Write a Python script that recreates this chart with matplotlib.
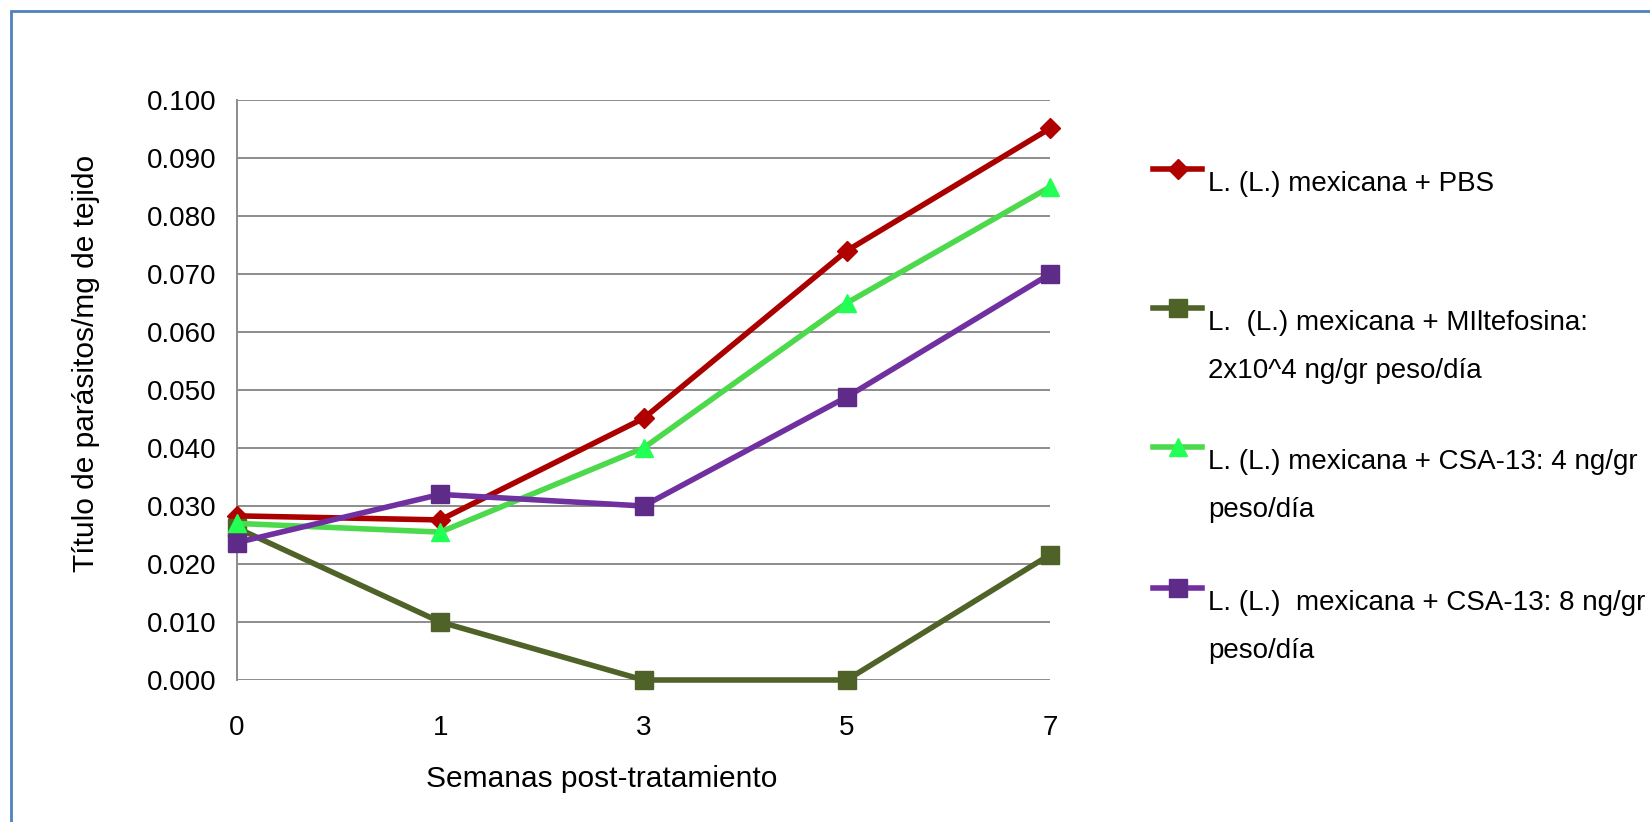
import matplotlib.pyplot as plt
from matplotlib.lines import Line2D
from matplotlib.patches import Rectangle

plt.rcParams['font.family'] = ['Liberation Sans', 'DejaVu Sans']

weeks = ['0', '1', '3', '5', '7']
pbs = [0.0283, 0.0276, 0.0451, 0.0740, 0.0951]
miltefosina = [0.0262, 0.0100, 0.0000, 0.0000, 0.0216]
csa13_4 = [0.0270, 0.0255, 0.0400, 0.0650, 0.0850]
csa13_8 = [0.0237, 0.0320, 0.0300, 0.0488, 0.0700]

labels = [
    'L. (L.) mexicana + PBS',
    'L.  (L.) mexicana + MIltefosina:\n2x10^4 ng/gr peso/día',
    'L. (L.) mexicana + CSA-13: 4 ng/gr\npeso/día',
    'L. (L.)  mexicana + CSA-13: 8 ng/gr\npeso/día',
]
series = [pbs, miltefosina, csa13_4, csa13_8]
line_colors = ['#AA0000', '#4F6228', '#4CD94C', '#7030A0']
marker_colors = ['#B00000', '#4F6228', '#22FF55', '#5E2B88']
markers = ['D', 's', '^', 's']
msizes = [10, 13, 13, 13]

W, H = 1650, 822
fig = plt.figure(figsize=(W / 100, H / 100), dpi=100)
ax = fig.add_axes([237 / W, 1 - 680 / H, (1050 - 237) / W, 580 / H])

x = range(len(weeks))
lines = []
for y, lc, mc, m, ms in zip(series, line_colors, marker_colors, markers, msizes):
    ln, = ax.plot(x, y, color=lc, lw=4, marker=m, ms=ms, mfc=mc, mec=mc,
                  clip_on=False, zorder=3)
    lines.append(ln)

ax.set_xlim(0, len(weeks) - 1)
ax.set_ylim(0, 0.1)
ax.set_yticks([i / 100 for i in range(11)])
ax.set_yticklabels([f'{i / 100:.3f}' for i in range(11)])
ax.set_xticks(list(x))
ax.set_xticklabels(weeks)
ax.tick_params(axis='y', length=0, pad=15, labelsize=20)
ax.tick_params(axis='x', length=0, pad=25, labelsize=20)
ax.grid(axis='y', color='#8C8C8C', lw=1.4)
ax.set_axisbelow(True)
for s in ['top', 'right', 'bottom']:
    ax.spines[s].set_visible(False)
ax.spines['left'].set_color('#8C8C8C')
ax.spines['left'].set_linewidth(1.4)

fig.text(602 / W, 1 - 779 / H, 'Semanas post-tratamiento', fontsize=21.5,
         ha='center', va='center')
fig.text(86 / W, 1 - 363 / H, 'Título de parásitos/mg de tejido', fontsize=21.5,
         ha='center', va='center', rotation=90)

# legend drawn by hand so entries keep even spacing
marker_y = [169, 308, 447, 588]
for ln, lab, my, m, ms, mc in zip(lines, labels, marker_y, markers, msizes, marker_colors):
    fy = 1 - my / H
    fig.add_artist(Line2D([1153 / W, 1202 / W], [fy, fy], color=ln.get_color(),
                          lw=4, transform=fig.transFigure))
    fig.add_artist(Line2D([1178 / W], [fy], marker=m, ms=ms, mfc=mc, mec=mc,
                          lw=0, transform=fig.transFigure))
    for k, part in enumerate(lab.split('\n')):
        fig.text(1208 / W, 1 - (my + 22 + 48 * k) / H, part, fontsize=20,
                 ha='left', va='baseline')

# blue chart-area frame (only top and left edges fall inside the image)
fig.add_artist(Rectangle((11 / W, -0.1), 1.2, 1 - 11 / H + 0.1, fill=False,
                         ec='#4F81BD', lw=2, transform=fig.transFigure))

fig.savefig('out.png', dpi=100)
